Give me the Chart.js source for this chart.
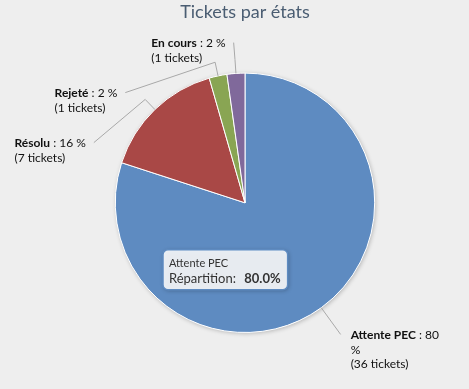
<!DOCTYPE html>
<html>
<head>
<meta charset="utf-8">
<script src="https://cdn.jsdelivr.net/npm/chart.js@4/dist/chart.umd.min.js"></script>
<style>
  html, body { margin: 0; padding: 0; background: #eeeeee; }
</style>
</head>
<body>
<canvas id="chartEtats" width="469" height="389"></canvas>
<script>
// données
var etats = ['Attente PEC', 'Résolu', 'Rejeté', 'En cours']
var tickets = [36, 7, 1, 1]
var couleurs = ['#5e8bc1', '#a94846', '#89a553', '#80699b']
var titre = 'Tickets par états'
var survol = 0 // part avec l'infobulle affichée

var total = tickets.reduce(function (a, b) { return a + b }, 0)
var police = 'Lato, "DejaVu Sans", sans-serif'

function fonte(taille, gras) {
  return (gras ? 'bold ' : '') + taille + 'px ' + police
}

// ombre légère sous le camembert
var ombre = {
  id: 'ombre',
  beforeDatasetsDraw: function (chart) {
    var arc = chart.getDatasetMeta(0).data[0]
    var ctx = chart.ctx
    ctx.save()
    ctx.shadowColor = 'rgba(0,0,0,0.25)'
    ctx.shadowBlur = 4
    ctx.shadowOffsetX = 1
    ctx.shadowOffsetY = 1
    ctx.fillStyle = '#ffffff'
    ctx.beginPath()
    ctx.arc(arc.x, arc.y, arc.outerRadius, 0, Math.PI * 2)
    ctx.fill()
    ctx.restore()
  }
}

// étiquettes avec connecteurs
var etiquettes = {
  id: 'etiquettes',
  afterDatasetsDraw: function (chart) {
    var ctx = chart.ctx
    var arcs = chart.getDatasetMeta(0).data
    var cx = arcs[0].x, cy = arcs[0].y, r = arcs[0].outerRadius
    var distance = 33, ecart = 50, haut = chart.chartArea.top - 30
    var R = r + distance
    var items = arcs.map(function (arc, i) {
      var a = (arc.startAngle + arc.endAngle) / 2
      return { i: i, a: a, gauche: Math.cos(a) < 0, yNat: cy + R * Math.sin(a) }
    })
    ;[true, false].forEach(function (cote) {
      var grp = items.filter(function (it) { return it.gauche === cote })
        .sort(function (p, q) { return p.yNat - q.yNat })
      var prec = haut - ecart
      grp.forEach(function (it, k) {
        it.y = Math.max(it.yNat, prec + ecart)
        prec = it.y
        var yx = k === 0 ? it.yNat : it.y
        var dx = Math.sqrt(Math.max(R * R - (yx - cy) * (yx - cy), 0))
        it.x = cx + (cote ? -dx : dx)
      })
    })

    ctx.save()
    items.forEach(function (it) {
      var cos = Math.cos(it.a), sin = Math.sin(it.a)
      ctx.strokeStyle = '#a8a8a8'
      ctx.lineWidth = 1
      ctx.beginPath()
      ctx.moveTo(it.x, it.y)
      ctx.lineTo(cx + (r + 14) * cos, cy + (r + 14) * sin)
      ctx.lineTo(cx + r * cos, cy + r * sin)
      ctx.stroke()

      var pct = Math.round(tickets[it.i] / total * 100)
      var morceaux = [
        { t: etats[it.i], b: true },
        { t: ' : ' + pct, b: false },
        { t: ' %', b: false }
      ]
      var x0d = it.x + 10
      var largeurMax = it.gauche ? 300 : chart.width - x0d - 20
      var lignes = [[]], larg = [0]
      morceaux.forEach(function (m) {
        ctx.font = fonte(12, m.b)
        var w = ctx.measureText(m.t).width
        var n = lignes.length - 1
        if (larg[n] > 0 && larg[n] + w > largeurMax) {
          var t = m.t.replace(/^\s+/, '')
          lignes.push([{ t: t, b: m.b }])
          larg.push(ctx.measureText(t).width)
        } else {
          lignes[n].push(m)
          larg[n] += w
        }
      })
      var nb = '(' + tickets[it.i] + ' tickets)'
      ctx.font = fonte(12, false)
      lignes.push([{ t: nb, b: false }])
      larg.push(ctx.measureText(nb).width)

      var bloc = Math.max.apply(null, larg)
      var x0 = it.gauche ? it.x - 8 - bloc : x0d
      ctx.fillStyle = '#111111'
      ctx.textBaseline = 'middle'
      ctx.textAlign = 'left'
      lignes.forEach(function (ligne, n) {
        var x = x0
        ligne.forEach(function (m) {
          ctx.font = fonte(12, m.b)
          ctx.fillText(m.t, x, it.y + 1 + n * 14.5)
          x += ctx.measureText(m.t).width
        })
      })
    })
    ctx.restore()
  }
}

// infobulle figée sur la part survolée
var infobulle = {
  id: 'infobulle',
  afterDraw: function (chart) {
    var ctx = chart.ctx
    var arc = chart.getDatasetMeta(0).data[survol]
    var entete = etats[survol]
    var libelle = 'Répartition: '
    var valeur = (tickets[survol] / total * 100).toFixed(1) + '%'
    ctx.save()
    ctx.font = fonte(11, false)
    var w1 = ctx.measureText(entete).width
    ctx.font = fonte(13, false)
    var wl = ctx.measureText(libelle).width + 5
    ctx.font = fonte(13, true)
    var w2 = wl + ctx.measureText(valeur).width
    var w = Math.max(w1, w2) + 13, h = 40
    var bx = arc.x - 82, by = arc.y + 47

    ctx.shadowColor = 'rgba(0,0,0,0.3)'
    ctx.shadowBlur = 4
    ctx.shadowOffsetX = 1
    ctx.shadowOffsetY = 1
    ctx.fillStyle = 'rgba(255,255,255,0.87)'
    ctx.beginPath()
    ctx.roundRect(bx, by, w, h, 5)
    ctx.fill()
    ctx.shadowColor = 'transparent'
    ctx.strokeStyle = couleurs[survol]
    ctx.lineWidth = 1.5
    ctx.stroke()

    ctx.fillStyle = '#333333'
    ctx.textBaseline = 'middle'
    ctx.font = fonte(11, false)
    ctx.fillText(entete, bx + 6, by + 14)
    ctx.font = fonte(13, false)
    ctx.fillText(libelle, bx + 6, by + 29)
    ctx.font = fonte(13, true)
    ctx.fillText(valeur, bx + 6 + wl, by + 29)
    ctx.restore()
  }
}

var chartEtatsCanvas = document.getElementById('chartEtats').getContext('2d')

new Chart(chartEtatsCanvas, {
  type: 'pie',
  data: {
    labels: etats,
    datasets: [
      {
        data: tickets,
        backgroundColor: couleurs,
        borderColor: '#ffffff',
        borderWidth: 1,
        hoverOffset: 0,
        offset: 0
      }
    ]
  },
  options: {
    responsive: false,
    animation: false,
    devicePixelRatio: 1,
    layout: { padding: { left: 21, right: 0, top: 0, bottom: 56 } },
    plugins: {
      legend: { display: false },
      tooltip: { enabled: false },
      title: {
        display: true,
        text: titre,
        color: '#4a5d72',
        font: { size: 18, weight: 'normal', family: police },
        padding: { top: 1, bottom: 50 }
      }
    }
  },
  plugins: [ombre, etiquettes, infobulle]
})
</script>
</body>
</html>
